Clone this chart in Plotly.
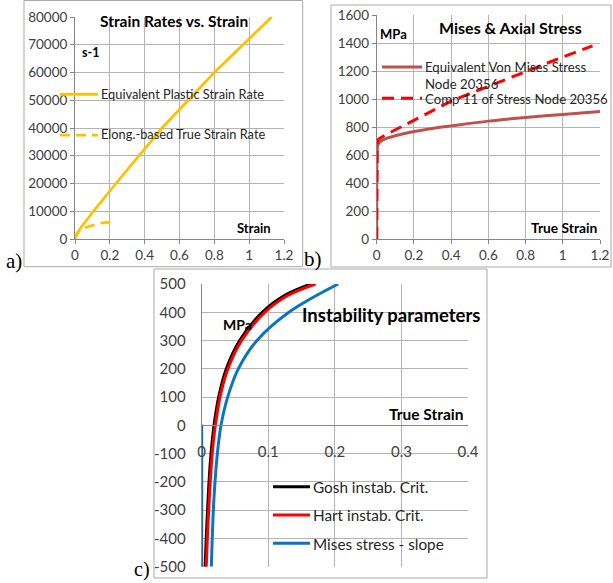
import plotly.graph_objects as go

W, H = 613, 583

# ---- a) strain rates vs. strain ----
a_strain_eq = [0, 0.01, 0.03, 0.1, 0.235, 0.5, 0.8, 1.13]
a_rate_eq = [0, 1500, 3800, 9500, 20000, 40000, 60000, 80000]
a_strain_el = [0, 0.01, 0.03, 0.06, 0.1, 0.15, 0.21]
a_rate_el = [0, 1800, 3200, 4100, 4900, 5700, 6000]
a_xticks = [0, 0.2, 0.4, 0.6, 0.8, 1, 1.2]
a_yticks = [0, 10000, 20000, 30000, 40000, 50000, 60000, 70000, 80000]

# ---- b) Mises & axial stress ----
b_strain_vm = [0, 0.003, 0.006, 0.015, 0.03, 0.06, 0.1, 0.2, 0.3, 0.4, 0.6, 0.8, 1.0, 1.2]
b_vm = [0, 640, 672, 690, 705, 722, 738, 768, 790, 808, 842, 868, 890, 910]
b_strain_s11 = [0, 0.003, 0.01, 0.02, 0.05, 0.1, 0.2, 0.3, 0.4, 0.6, 0.8, 1.0, 1.16]
b_s11 = [0, 690, 712, 722, 745, 780, 847, 918, 985, 1090, 1196, 1300, 1380]
b_xticks = [0, 0.2, 0.4, 0.6, 0.8, 1, 1.2]
b_yticks = [0, 200, 400, 600, 800, 1000, 1200, 1400, 1600]

# ---- c) instability parameters ----
c_strain_gosh = [0.0052, 0.0068, 0.0088, 0.011, 0.014, 0.0185, 0.0255, 0.037, 0.057, 0.091, 0.125, 0.164]
c_gosh = [-500, -400, -300, -200, -100, 0, 100, 200, 300, 400, 460, 500]
c_strain_hart = [0.0068, 0.0085, 0.0105, 0.0128, 0.0158, 0.0205, 0.0275, 0.0395, 0.06, 0.095, 0.13, 0.171]
c_hart = [-500, -400, -300, -200, -100, 0, 100, 200, 300, 400, 460, 500]
c_strain_mises = [0, 0, None, 0.0145, 0.0158, 0.0175, 0.02, 0.0235, 0.029, 0.039, 0.055, 0.083, 0.131, 0.205]
c_mises = [3, -600, None, -500, -400, -300, -200, -100, 0, 100, 200, 300, 400, 500]
c_xticks = [0, 0.1, 0.2, 0.3, 0.4]
c_yticks = [-500, -400, -300, -200, -100, 0, 100, 200, 300, 400, 500]

FONT = "Lato"
GRID = "#B4B4B4"
AXLINE = "#868686"
TICKCOL = "#404040"
ORANGE = "#FFC000"
BRICK = "#C0504D"
RED = "#FF0000"
BLUE = "#0A74C4"


def px_x(p):
    return p / W


def px_y(p):
    return 1 - p / H


fig = go.Figure()

fig.add_trace(go.Scatter(x=a_strain_eq, y=a_rate_eq, mode="lines", line=dict(color=ORANGE, width=2.75),
                         xaxis="x", yaxis="y", showlegend=False))
fig.add_trace(go.Scatter(x=a_strain_el, y=a_rate_el, mode="lines", line=dict(color=ORANGE, width=2.75, dash="10px,6px", shape="spline"),
                         xaxis="x", yaxis="y", showlegend=False))

fig.add_trace(go.Scatter(x=b_strain_vm, y=b_vm, mode="lines", line=dict(color=BRICK, width=3, shape="spline"),
                         xaxis="x2", yaxis="y2", showlegend=False))
fig.add_trace(go.Scatter(x=b_strain_s11, y=b_s11, mode="lines", line=dict(color=RED, width=3, dash="12px,7px"),
                         xaxis="x2", yaxis="y2", showlegend=False))

fig.add_trace(go.Scatter(x=c_strain_mises, y=c_mises, mode="lines", line=dict(color=BLUE, width=3, shape="spline"),
                         xaxis="x3", yaxis="y3", showlegend=False))
fig.add_trace(go.Scatter(x=c_strain_gosh, y=c_gosh, mode="lines", line=dict(color="black", width=3, shape="spline"),
                         xaxis="x3", yaxis="y3", showlegend=False))
fig.add_trace(go.Scatter(x=c_strain_hart, y=c_hart, mode="lines", line=dict(color=RED, width=3, shape="spline"),
                         xaxis="x3", yaxis="y3", showlegend=False))


def axis_style(size=13.5, **kw):
    d = dict(showgrid=True, gridcolor=GRID, gridwidth=1, showline=True, linecolor=AXLINE, linewidth=1,
             zeroline=False, ticks="outside", ticklen=4, tickcolor=AXLINE, automargin=False,
             tickfont=dict(family=FONT, size=size, color=TICKCOL), fixedrange=True)
    d.update(kw)
    return d


a_xdom = [px_x(75), px_x(284)]
a_ydom = [px_y(239), px_y(17)]
b_xdom = [px_x(376.7), px_x(600)]
b_ydom = [px_y(239), px_y(15)]
c_xdom = [px_x(201.7), px_x(468)]
c_ydom = [px_y(566.7), px_y(284)]
c_zero = c_ydom[0] + (0 - c_yticks[0]) / (c_yticks[-1] - c_yticks[0]) * (c_ydom[1] - c_ydom[0])

fig.update_layout(
    template="none",
    xaxis=axis_style(domain=a_xdom, range=[0, 1.2], tickvals=a_xticks, anchor="y"),
    yaxis=axis_style(domain=a_ydom, range=[0, 80000], tickvals=a_yticks, tickformat="d", anchor="x"),
    xaxis2=axis_style(domain=b_xdom, range=[0, 1.2], tickvals=b_xticks, anchor="y2"),
    yaxis2=axis_style(domain=b_ydom, range=[0, 1600], tickvals=b_yticks, anchor="x2"),
    xaxis3=axis_style(size=15, domain=c_xdom, range=[0, 0.4], tickvals=c_xticks, anchor="free", position=c_zero,
                      ticklen=13, tickcolor="rgba(0,0,0,0)"),
    yaxis3=axis_style(size=15, domain=c_ydom, range=[-500, 500], tickvals=c_yticks,
                      ticktext=[str(v) for v in c_yticks], anchor="x3", ticklen=12, tickcolor="rgba(0,0,0,0)"),
)

shapes = []
BOX = "#A9A9A9"
for x0, y0, x1, y1 in [(24, 0.5, 302.7, 266.7), (331, 5, 611, 267), (154, 269, 487, 578)]:
    shapes.append(dict(type="rect", xref="paper", yref="paper", x0=px_x(x0), x1=px_x(x1), y0=px_y(y0), y1=px_y(y1),
                       line=dict(color=BOX, width=1), fillcolor="rgba(0,0,0,0)", layer="below"))

# legend keys
keys = [
    (60, 98, 94.3, ORANGE, "solid", 2.75),
    (60, 98, 135, ORANGE, "10px,6px", 2.75),
    (382, 422, 67, BRICK, "solid", 3),
    (382, 422, 98.3, RED, "12px,7px", 3),
    (273, 310, 486.7, "black", "solid", 3),
    (273, 310, 515, RED, "solid", 3),
    (273, 310, 543.3, BLUE, "solid", 3),
]
for x0, x1, y, col, dash, w in keys:
    shapes.append(dict(type="line", xref="paper", yref="paper", x0=px_x(x0), x1=px_x(x1), y0=px_y(y), y1=px_y(y),
                       line=dict(color=col, width=w, dash=dash)))
fig.update_layout(shapes=shapes)

ann = []


def text(t, x, y, size=13, bold=False, xanchor="center", family=FONT, color="black"):
    ann.append(dict(text=f"<b>{t}</b>" if bold else t, x=px_x(x), y=px_y(y), xref="paper", yref="paper",
                    xanchor=xanchor, yanchor="middle", showarrow=False,
                    font=dict(family=family, size=size, color=color)))


# panel a
text("Strain Rates vs. Strain", 174, 21, 15.5, True)
text("s-1", 90, 52, 12.5, True)
text("Strain", 254, 228, 13, True)
text("Equivalent Plastic Strain Rate", 99, 94.3, 12.8, xanchor="left", color="#262626")
text("Elong.-based True Strain Rate", 99, 134.5, 12.8, xanchor="left", color="#262626")
# panel b
text("MPa", 393.5, 34, 13, True)
text("Mises & Axial Stress", 510, 28, 16, True)
text("True Strain", 564, 227, 13.8, True)
text("Equivalent Von Mises Stress", 423, 67, 13.2, xanchor="left", color="#262626")
text("Node 20356", 423, 84, 13.2, xanchor="left", color="#262626")
text("Comp 11 of Stress Node 20356", 423, 98.5, 13.2, xanchor="left", color="#262626")
# panel c
text("MPa", 237, 325, 14, True)
text("Instability parameters", 391, 315, 18.5, True)
text("True Strain", 426, 414, 15.5, True)
text("Gosh instab. Crit.", 311, 487, 15.3, xanchor="left", color="#262626")
text("Hart instab. Crit.", 311, 515, 15.3, xanchor="left", color="#262626")
text("Mises stress - slope", 311, 543.5, 15.3, xanchor="left", color="#262626")
# panel letters
text("a)", 14, 261, 21, family="Liberation Serif")
text("b)", 313, 259, 21, family="Liberation Serif")
text("c)", 142, 569, 20, family="Liberation Serif")
fig.update_layout(annotations=ann)

fig.update_layout(width=W, height=H, margin=dict(l=0, r=0, t=0, b=0, pad=0), paper_bgcolor="white",
                  plot_bgcolor="white", showlegend=False)

fig.write_html("out.html")
